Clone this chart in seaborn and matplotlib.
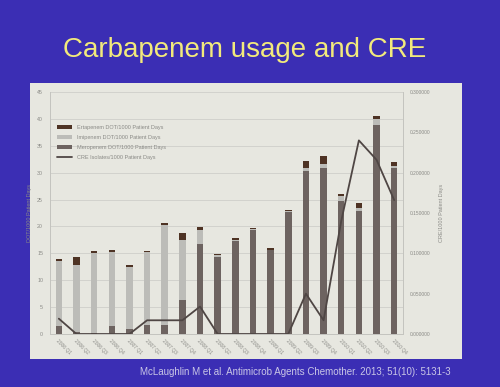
import numpy as np
import pandas as pd
import matplotlib
matplotlib.use("Agg")
import matplotlib.pyplot as plt
from matplotlib.ticker import FormatStrFormatter
import seaborn as sns

# quarters shown on the x axis
quarters = [f"{y} Q{q}" for y in range(2006, 2011) for q in range(1, 5)]

# days of therapy per 1000 patient days
meropenem = [1.5, 0.4, 0.2, 1.5, 1.0, 1.6, 1.7, 6.3, 16.7, 14.3,
             17.3, 19.3, 15.6, 22.6, 30.3, 30.8, 24.7, 22.9, 38.9, 30.9]
imipenem = [12.1, 12.4, 14.9, 13.8, 11.5, 13.6, 18.5, 11.2, 2.6, 0.3,
            0.2, 0.3, 0.1, 0.2, 0.6, 0.9, 1.0, 0.5, 1.0, 0.4]
ertapenem = [0.3, 1.6, 0.4, 0.3, 0.3, 0.3, 0.4, 1.2, 0.6, 0.3,
             0.3, 0.2, 0.2, 0.2, 1.2, 1.4, 0.4, 0.9, 0.7, 0.6]
# CRE isolates per 1000 patient days
cre = [0.019, 0.0, 0.0, 0.0, 0.0, 0.017, 0.017, 0.017, 0.034, 0.0,
       0.0, 0.0, 0.0, 0.0, 0.050, 0.017, 0.14, 0.24, 0.216, 0.166]

labels = ["Ertapenem DOT/1000 Patient Days",
          "Imipenem DOT/1000 Patient Days",
          "Meropenem DOT/1000 Patient Days",
          "CRE Isolates/1000 Patient Days"]

df = pd.DataFrame({"quarter": quarters, "mero": meropenem,
                   "imi": imipenem, "erta": ertapenem, "cre": cre})
df["mero_imi"] = df["mero"] + df["imi"]
df["total"] = df["mero_imi"] + df["erta"]
df["pos"] = df.index

sns.set_style("white")
plt.rcParams["font.family"] = ["Liberation Sans", "DejaVu Sans"]

slide_bg = "#3b2eb4"
panel_bg = "#e7e7e0"
grey_txt = "#8a8a86"

fig = plt.figure(figsize=(5, 3.87), dpi=100, facecolor=slide_bg)

# light panel behind the chart
panel = fig.add_axes([30 / 500, 1 - 359 / 387, 432 / 500, 276 / 387], zorder=0)
panel.set_facecolor(panel_bg)
panel.set_xticks([])
panel.set_yticks([])
for s in panel.spines.values():
    s.set_visible(False)

ax = fig.add_axes([50 / 500, 1 - 334 / 387, 353 / 500, 242 / 387], zorder=1)
ax.set_facecolor("none")

# stacked bars drawn from the tallest total down
bar_kw = dict(width=0.37, saturation=1, edgecolor="none", linewidth=0, zorder=3)
sns.barplot(data=df, x="quarter", y="total", color="#4e3324",
            label=labels[0], ax=ax, **bar_kw)
sns.barplot(data=df, x="quarter", y="mero_imi", color="#bcbcb8",
            label=labels[1], ax=ax, **bar_kw)
sns.barplot(data=df, x="quarter", y="mero", color="#6d6360",
            label=labels[2], ax=ax, **bar_kw)

ax.set_ylim(0, 45)
ax.set_yticks(np.arange(0, 46, 5))
ax.yaxis.grid(True, color="#cfcfca", linewidth=0.6, zorder=0)
ax.set_axisbelow(True)
ax.set_xlabel("")
ax.set_ylabel("DOT/1000 Patient Days", fontsize=4, color=grey_txt, labelpad=4)
ax.tick_params(axis="y", labelsize=3.8, colors=grey_txt, length=0, pad=5)
ax.tick_params(axis="x", labelsize=3.5, colors=grey_txt, length=0, pad=3)
plt.setp(ax.get_xticklabels(), rotation=-45, ha="left", rotation_mode="anchor")
ax.spines["top"].set_visible(False)
for side in ["left", "right", "bottom"]:
    ax.spines[side].set_color("#c4c4bf")
    ax.spines[side].set_linewidth(0.6)

ax2 = ax.twinx()
sns.lineplot(data=df, x="pos", y="cre", color="#4f4644", linewidth=1.3,
             label=labels[3], ax=ax2, zorder=4, legend=False)
ax2.set_ylim(0, 0.3)
ax2.set_yticks(np.arange(0, 0.31, 0.05))
ax2.yaxis.set_major_formatter(FormatStrFormatter("%.6f"))
ax2.set_ylabel("CRE/1000 Patient Days", fontsize=4, color=grey_txt, labelpad=6)
ax2.tick_params(axis="y", labelsize=3.5, colors=grey_txt, length=0, pad=5)
ax2.set_xlabel("")
ax2.spines["top"].set_visible(False)
for side in ["left", "right", "bottom"]:
    ax2.spines[side].set_color("#c4c4bf")
    ax2.spines[side].set_linewidth(0.6)
ax2.set_xlim(-0.5, len(quarters) - 0.5)

h1, l1 = ax.get_legend_handles_labels()
h2, l2 = ax2.get_legend_handles_labels()
if ax.get_legend() is not None:
    ax.get_legend().remove()
if ax2.get_legend() is not None:
    ax2.get_legend().remove()
ax2.legend(h1 + h2, l1 + l2, loc="upper left", bbox_to_anchor=(0.005, 0.885),
           fontsize=4, frameon=False, handlelength=2.8, handleheight=0.6,
           labelspacing=0.9, labelcolor=grey_txt)

fig.text(0.49, 0.87, "Carbapenem usage and CRE", color="#f2ea7c",
         fontsize=20, ha="center", va="center")
fig.text(0.59, 0.04, "McLaughlin M et al. Antimicrob Agents Chemother. 2013; 51(10): 5131-3",
         color="#c9c6e6", fontsize=7, ha="center", va="center")

fig.savefig("out.png", dpi=100, facecolor=slide_bg)
